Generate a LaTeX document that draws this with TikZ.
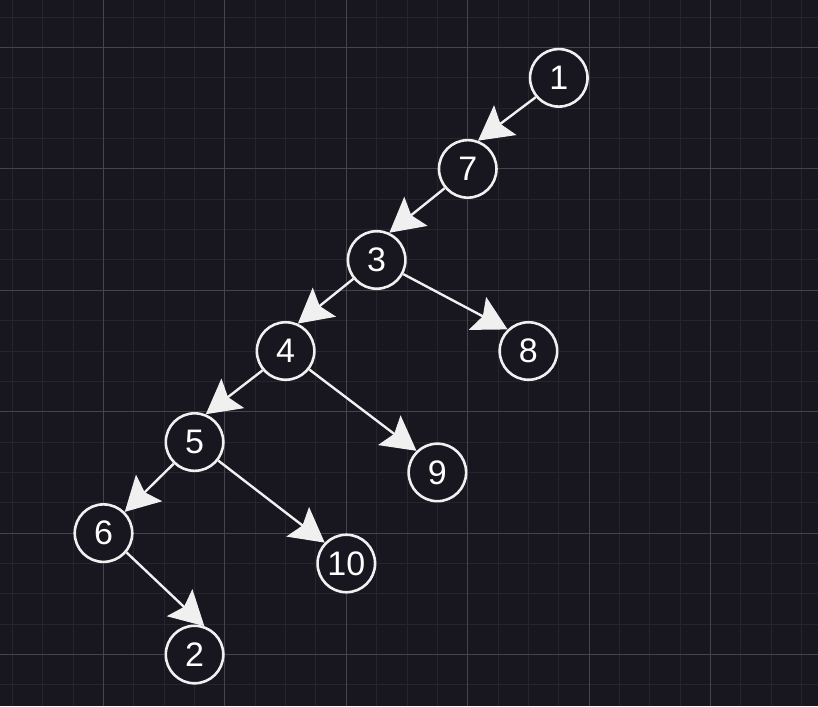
\documentclass[tikz,border=0pt]{standalone}
\usepackage{fontspec}
\setmainfont{Liberation Sans}
\usetikzlibrary{arrows.meta}
\definecolor{bgc}{HTML}{18161E}
\definecolor{minorc}{HTML}{26252C}
\definecolor{majorc}{HTML}{45444A}
\definecolor{linec}{HTML}{F0F0F0}
\begin{document}
\begin{tikzpicture}[x=30.35pt,y=-30.35pt,
    vert/.style={circle,draw=linec,line width=2.6pt,fill=bgc,text=white,minimum size=57.5pt,inner sep=0pt,font=\fontsize{34}{34}\selectfont},
    edge/.style={draw=linec,line width=2.4pt,-{Stealth[length=34pt,width=37pt,inset=6pt]}}]
    % background and grid
    \fill[bgc] (-3.41,-1.565) rectangle (23.54,21.70);
    \useasboundingbox (-3.41,-1.565) rectangle (23.54,21.70);
    \foreach \i in {-3,...,23} \draw[minorc,line width=1pt] (\i,-1.565)--(\i,21.70);
    \foreach \j in {-1,...,21} \draw[minorc,line width=1pt] (-3.41,\j)--(23.54,\j);
    \foreach \i in {0,4,...,20} \draw[majorc,line width=1pt] (\i,-1.565)--(\i,21.70);
    \foreach \j in {0,4,...,20} \draw[majorc,line width=1pt] (-3.41,\j)--(23.54,\j);
    % tree
    \node[vert] (n1) at (15,1) {1};
    \node[vert] (n7) at (12,4) {7};
    \node[vert] (n3) at (9,7) {3};
    \node[vert] (n4) at (6,10) {4};
    \node[vert] (n8) at (14,10) {8};
    \node[vert] (n5) at (3,13) {5};
    \node[vert] (n9) at (11,14) {9};
    \node[vert] (n6) at (0,16) {6};
    \node[vert] (n10) at (8,17) {10};
    \node[vert] (n2) at (3,20) {2};
    \draw[edge] (n1.220)--(n7.70);
    \draw[edge] (n7.220)--(n3.65);
    \draw[edge] (n3.219)--(n4.66);
    \draw[edge] (n3.332)--(n8.134);
    \draw[edge] (n4.220)--(n5.68);
    \draw[edge] (n4.322)--(n9.134);
    \draw[edge] (n5.226)--(n6.45);
    \draw[edge] (n5.322)--(n10.136);
    \draw[edge] (n6.320)--(n2.71);
\end{tikzpicture}
\end{document}
